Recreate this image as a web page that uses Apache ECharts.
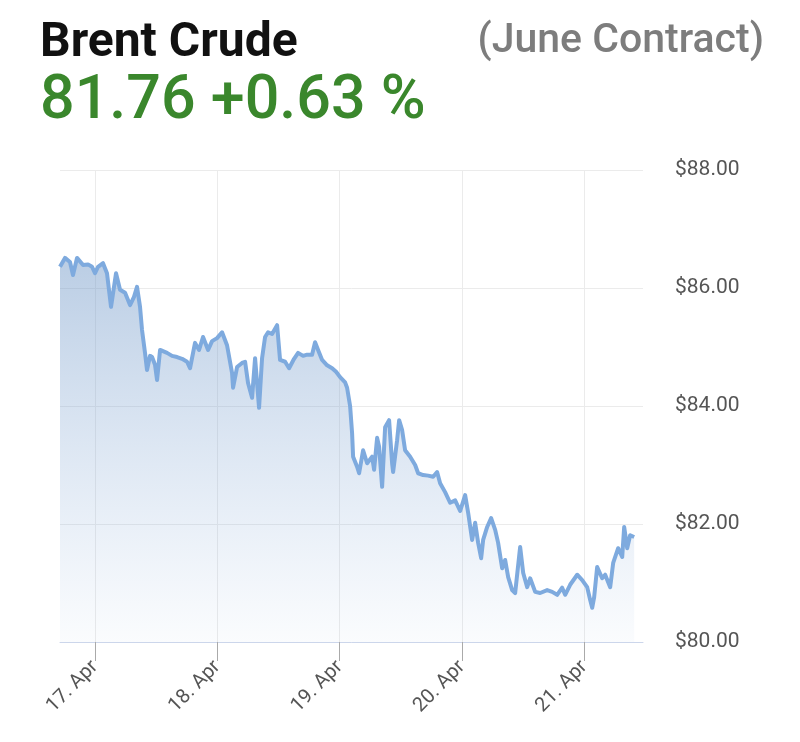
<!DOCTYPE html>
<html>
<head>
<meta charset="utf-8">
<script src="https://cdn.jsdelivr.net/npm/echarts@6/dist/echarts.min.js"></script>
<style>
html,body{margin:0;padding:0;background:#fff;}
#chart{width:800px;height:742px;}
</style>
</head>
<body>
<div id="chart"></div>
<script>
// Hours relative to 17 Apr 00:00
var hours = [-6.87,-5.89,-4.91,-4.32,-3.53,-2.35,-1.37,-0.59,0,0.59,1.57,2.35,3.14,4.12,4.91,5.89,6.87,7.65,8.24,8.83,9.22,9.81,10.2,10.79,11.19,11.77,12.17,12.76,14.13,15.11,16.09,17.07,18.05,18.64,19.62,20.41,21.19,22.18,22.96,23.94,24.92,25.9,26.88,27.08,27.87,28.85,29.44,30.02,30.81,31.4,32.18,32.77,33.36,33.95,34.73,35.72,36.3,37.29,38.07,39.05,39.84,40.82,41.6,42.58,43.17,43.76,44.55,45.53,46.51,47.29,48.08,49.06,49.45,50.04,50.43,50.63,51.41,51.81,52.59,53.38,54.36,54.75,55.34,55.73,56.32,56.91,57.69,58.28,58.48,59.26,59.66,60.25,60.83,61.82,62.8,63.39,64.37,65.35,66.33,67.11,67.7,68.68,69.66,70.65,71.63,72.61,73.2,73.98,74.57,75.16,75.75,76.14,76.93,77.71,78.5,79.08,79.87,80.46,81.05,81.83,82.42,83.4,84.0,84.78,85.36,86.35,87.33,88.7,89.68,90.66,91.64,92.23,93.21,94.59,95.57,96.55,97.14,97.53,97.92,98.51,99.49,100.08,101.06,101.65,102.63,103.42,103.81,104.4,104.98,105.77];
var prices = [86.36,86.51,86.44,86.22,86.51,86.39,86.40,86.36,86.25,86.36,86.42,86.25,85.68,86.25,85.97,85.92,85.71,85.85,86.02,85.68,85.29,84.90,84.61,84.85,84.83,84.70,84.44,84.95,84.90,84.85,84.83,84.80,84.75,84.64,85.07,84.95,85.17,84.95,85.10,85.15,85.25,85.03,84.56,84.31,84.66,84.73,84.75,84.39,84.14,84.81,83.97,84.81,85.17,85.25,85.22,85.37,84.78,84.75,84.64,84.80,84.90,84.85,84.87,84.87,85.08,84.95,84.78,84.69,84.64,84.58,84.49,84.40,84.31,84.00,83.54,83.14,82.97,82.86,83.25,83.03,83.14,82.92,83.46,83.31,82.63,83.64,83.76,83.03,82.88,83.42,83.76,83.59,83.25,83.14,83.00,82.86,82.83,82.82,82.80,82.88,82.69,82.54,82.36,82.40,82.22,82.49,82.19,81.73,82.02,81.68,81.42,81.73,81.95,82.10,81.90,81.68,81.25,81.39,81.10,80.88,80.83,81.61,81.17,80.93,81.08,80.85,80.83,80.88,80.85,80.80,80.92,80.80,80.97,81.14,81.05,80.93,80.71,80.58,80.76,81.27,81.08,81.14,80.93,81.34,81.59,81.44,81.95,81.59,81.81,81.78];
var monthNames = ['Jan','Feb','Mar','Apr','May','Jun','Jul','Aug','Sep','Oct','Nov','Dec'];
var yTicks = [80, 82, 84, 86, 88];
var titleText = 'Brent Crude';
var subText = '(June Contract)';
var quoteText = '81.76 +0.63 %';

var base = new Date(2023, 3, 17).getTime();
var H = 3600000;
var data = hours.map(function (h, i) { return [base + h * H, prices[i]]; });

var chart = echarts.init(document.getElementById('chart'));
chart.setOption({
  animation: false,
  backgroundColor: '#ffffff',
  title: [
    { text: titleText, left: 35, top: 15, textStyle: { fontFamily: 'Roboto', fontSize: 48, fontWeight: 'bold', color: '#111111' } },
    { text: subText, right: 31, top: 16, textStyle: { fontFamily: 'Roboto', fontSize: 41, fontWeight: 500, color: '#7d7d7d' } },
    { text: quoteText, left: 35, top: 67, textStyle: { fontFamily: 'Roboto', fontSize: 61, fontWeight: 500, color: '#3a872c' } }
  ],
  grid: { left: 60, right: 157, top: 170, bottom: 100, containLabel: false },
  xAxis: {
    type: 'time',
    min: base - 6.87 * H,
    max: base + 107.5 * H,
    minInterval: 24 * H,
    maxInterval: 24 * H,
    axisLine: { show: true, lineStyle: { color: '#ccd6eb', width: 1 } },
    axisTick: { show: true, length: 19, lineStyle: { color: '#aaaaaa' } },
    splitLine: { show: true, showMinLine: false, showMaxLine: false, lineStyle: { color: '#ebebeb', width: 1 } },
    axisLabel: {
      rotate: 45, margin: 22, fontFamily: 'Roboto', fontSize: 20, color: '#555555',
      showMinLabel: false, showMaxLabel: false,
      formatter: function (v) { var d = new Date(v); return d.getDate() + '. ' + monthNames[d.getMonth()]; }
    }
  },
  yAxis: {
    type: 'value', position: 'right', min: yTicks[0], max: yTicks[yTicks.length - 1], interval: 2,
    axisLine: { show: false }, axisTick: { show: false },
    splitLine: { show: true, lineStyle: { color: '#ebebeb', width: 1 } },
    axisLabel: { margin: 32, fontFamily: 'Roboto', fontSize: 21, color: '#555555',
      formatter: function (v) { return '$' + v.toFixed(2); } }
  },
  series: [{
    type: 'line', data: data, showSymbol: false, smooth: false,
    lineStyle: { color: '#7eaade', width: 4, join: 'round' },
    itemStyle: { color: '#7eaade' },
    areaStyle: {
      origin: 'start',
      color: new echarts.graphic.LinearGradient(0, 0, 0, 1, [
        { offset: 0, color: 'rgba(110,150,198,0.68)' },
        { offset: 1, color: 'rgba(140,175,220,0.06)' }
      ])
    }
  }]
});
</script>
</body>
</html>
